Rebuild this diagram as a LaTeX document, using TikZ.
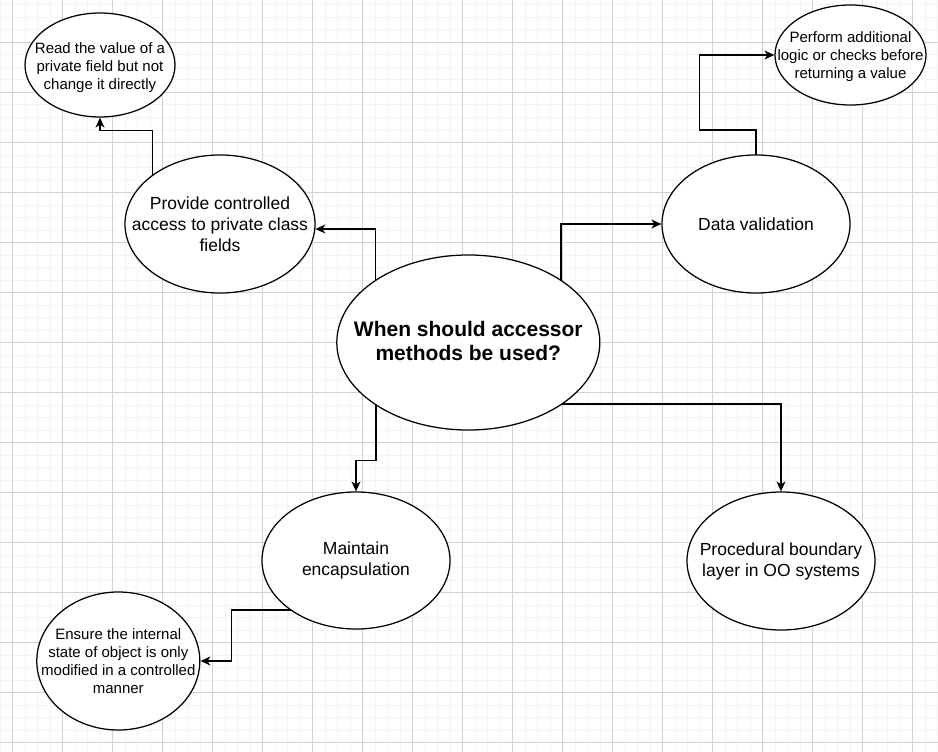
\documentclass[tikz,border=0pt]{standalone}
\usepackage{fontspec}
\setmainfont{Liberation Sans}
\usetikzlibrary{shapes.geometric,arrows.meta,calc}
\pgfdeclarelayer{grid}
\pgfdeclarelayer{wires}
\pgfsetlayers{grid,wires,main}
\definecolor{gridminor}{HTML}{F4F4F4}
\definecolor{gridmajor}{HTML}{D2D2D2}
\tikzset{
  bubble/.style={draw=black, fill=white, ellipse, line width=1.25pt, inner sep=0pt},
  txtS/.style={align=center, inner sep=0pt, font=\fontsize{15}{18}\selectfont},
  txtM/.style={align=center, inner sep=0pt, font=\fontsize{17.5}{21}\selectfont},
  txtB/.style={align=center, inner sep=0pt, font=\fontsize{21}{24}\selectfont\bfseries},
  conn/.style={line width=1.25pt, -{Stealth[length=10pt,width=9pt,inset=3pt]}}
}
\begin{document}
\begin{tikzpicture}[x=1pt, y=-1pt]
\useasboundingbox (0,0) rectangle (938,752);

% background grid: light lines every 12.5, stronger lines every 50
\begin{pgfonlayer}{grid}
  \fill[white] (0,0) rectangle (938,752);
  \foreach \k in {0,...,75} \draw[gridminor, line width=1pt] (\k*12.5,0) -- (\k*12.5,752);
  \foreach \k in {0,...,59} \draw[gridminor, line width=1pt] (0,5+\k*12.5) -- (938,5+\k*12.5);
  \foreach \k in {0,...,18} \draw[gridmajor, line width=1pt] (12.5+\k*50,0) -- (12.5+\k*50,752);
  \foreach \k in {0,...,14} \draw[gridmajor, line width=1pt] (0,42.5+\k*50) -- (938,42.5+\k*50);
\end{pgfonlayer}

% ellipses
\node[bubble, minimum width=263, minimum height=175] (ctr) at (468.3,342.5) {};
\node[bubble, minimum width=190, minimum height=138] (prov) at (220,224) {};
\node[bubble, minimum width=188, minimum height=138] (data) at (756,224) {};
\node[bubble, minimum width=150, minimum height=104] (read) at (100,65) {};
\node[bubble, minimum width=151, minimum height=100] (perf) at (850.5,55) {};
\node[bubble, minimum width=188, minimum height=137] (maint) at (356,560.5) {};
\node[bubble, minimum width=188, minimum height=138] (proc) at (781,561) {};
\node[bubble, minimum width=163, minimum height=138] (ens) at (118.3,661) {};

% texts
\node[txtB] (ctrT) at ($(ctr)+(0,-1.5)$) {When should accessor\\methods be used?};
\node[txtM] (provT) at (prov) {Provide controlled\\access to private class\\fields};
\node[txtM] (dataT) at (data) {Data validation};
\node[txtS] (readT) at ($(read)+(0,2.5)$) {Read the value of a\\private field but not\\change it directly};
\node[txtS] (perfT) at ($(perf)+(0,2)$) {Perform additional\\logic or checks before\\returning a value};
\node[txtM] (maintT) at (maint) {Maintain\\encapsulation};
\node[txtM] (procT) at (proc) {Procedural boundary\\layer in OO systems};
\node[txtS] (ensT) at (ens) {Ensure the internal\\state of object is only\\modified in a controlled\\manner};

% connectors
\begin{pgfonlayer}{wires}
  \draw[conn] ($(ctr)+(-92.6,0)$) |- (prov.-3);
  \draw[conn] ($(ctr)+(92.7,0)$) |- (data.west);
  \draw[conn] ($(ctr)+(-92.3,0)$) |- ($(maint.north)+(0,-31)$) -- (maint.north);
  \draw[conn] ($(ctr)+(0,61.5)$) -| (proc.north);
  \draw[conn] ($(prov)+(-67.7,0)$) |- ($(read.south)+(0,13)$) -- (read.south);
  \draw[conn] (data.center) -- ++(0,-94) -| ($(perf.west)+(-75,0)$) -- (perf.west);
  \draw[conn] ($(maint)+(0,49.5)$) -| ($(ens.east)+(30.7,0)$) -- (ens.east);
\end{pgfonlayer}
\end{tikzpicture}
\end{document}
